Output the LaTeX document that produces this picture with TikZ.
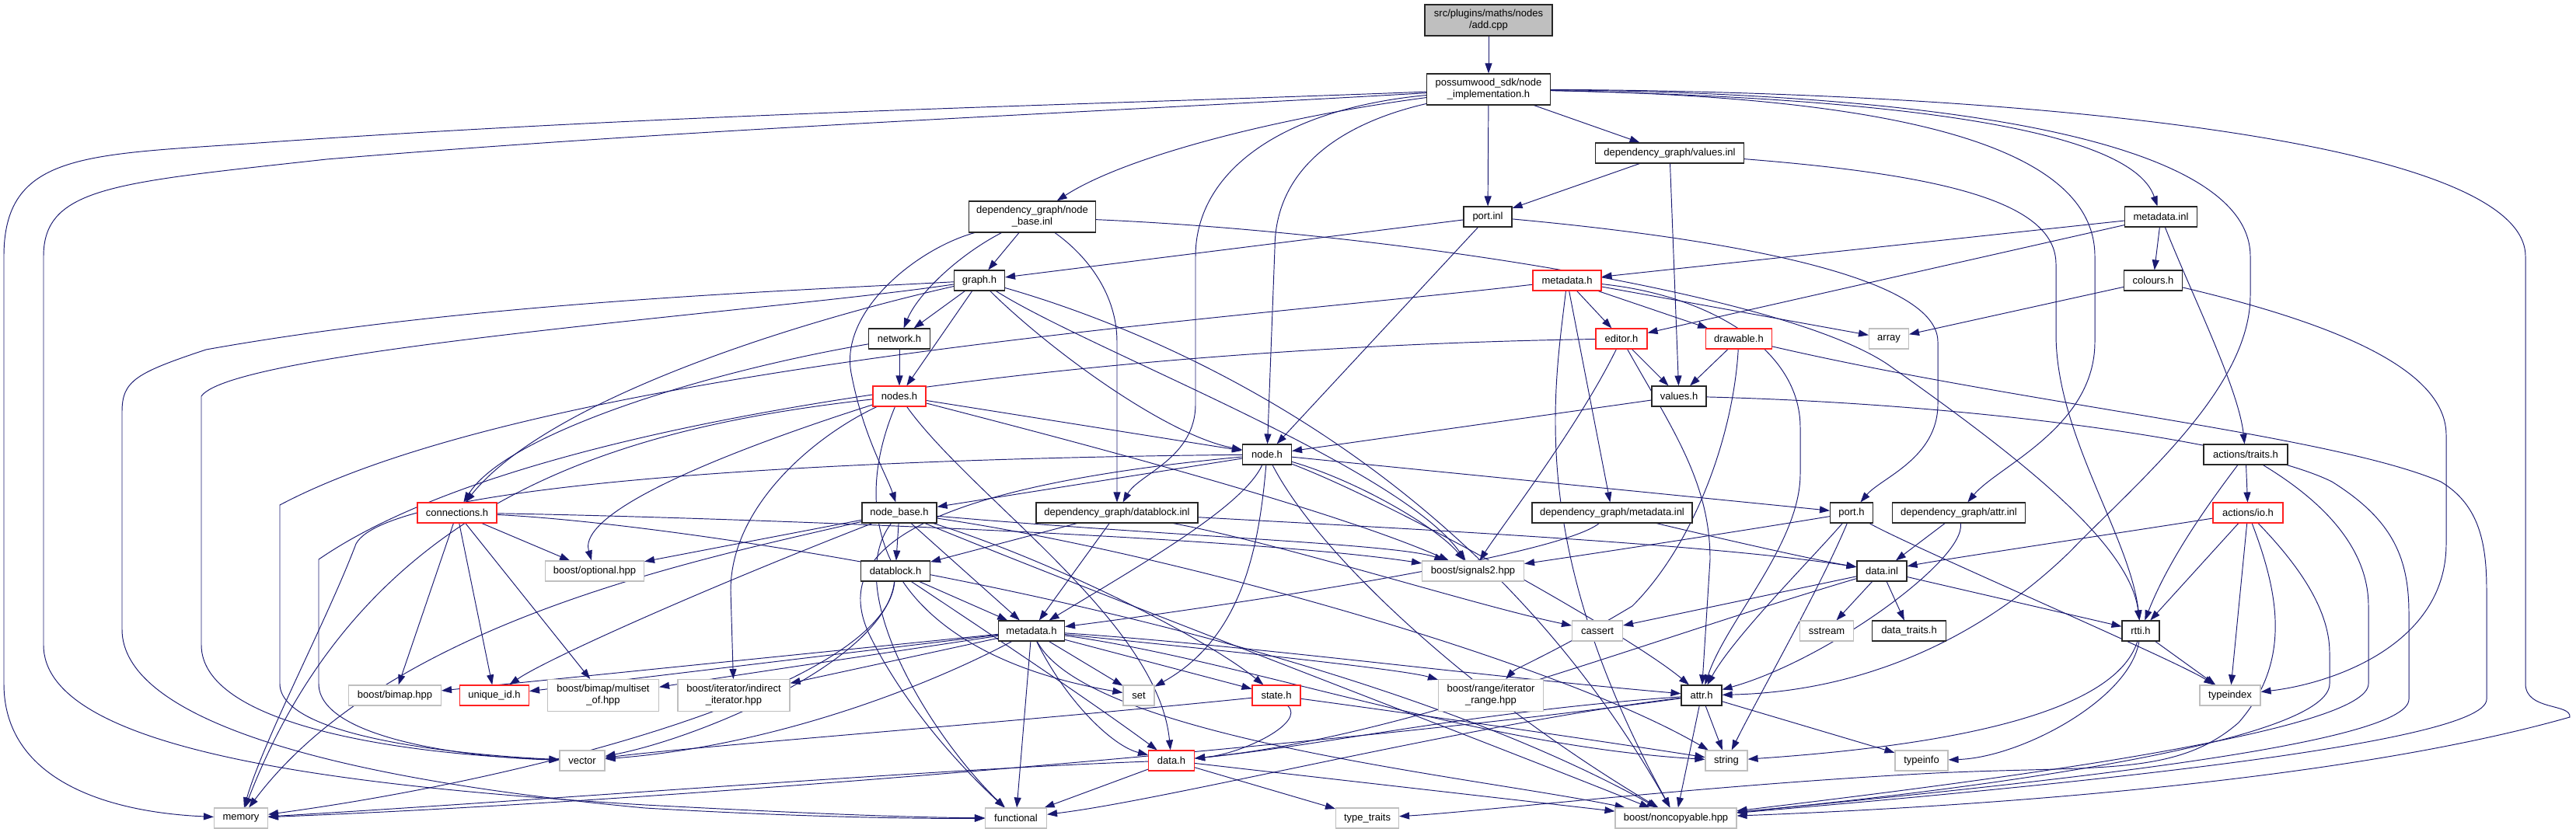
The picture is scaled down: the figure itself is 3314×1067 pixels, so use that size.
\documentclass[tikz,border=0pt]{standalone}
\usepackage{fontspec}
\setmainfont{Liberation Sans}
\usepackage{xcolor}
\usepackage{tikz}
\usetikzlibrary{arrows.meta}
\definecolor{edgeblue}{HTML}{191970}
\definecolor{boxgray}{HTML}{BFBFBF}
\definecolor{cutred}{HTML}{FF2020}
\pgfdeclarelayer{background}
\pgfsetlayers{background,main}

\begin{document}
\begin{tikzpicture}[
  x=1pt, y=-1pt,
  file/.style={
    draw,
    fill=white,
    line width=1.1pt,
    align=center,
    inner sep=0pt,
    minimum height=26pt,
    font=\fontsize{13}{15}\selectfont
  },
  docfile/.style={file, draw=black!85},
  cutfile/.style={file, draw=cutred},
  sysfile/.style={file, draw=boxgray},
  srcfile/.style={file, draw=black!85, fill=boxgray},
  incl/.style={
    -{Triangle[length=13pt,width=9pt]},
    draw=edgeblue,
    line width=0.95pt
  }
]
\useasboundingbox (0,0) rectangle (3314,1067);

% Top of the graph
\node[srcfile, minimum width=164pt, minimum height=40pt] (root) at (1915,26) {src/plugins/maths/nodes\\/add.cpp};
\node[docfile, minimum width=159pt, minimum height=40pt] (impl) at (1915,115) {possumwood\_sdk/node\\\_implementation.h};
\node[docfile, minimum width=191pt] (valinl) at (2148,197) {dependency\_graph/values.inl};
\node[docfile, minimum width=62pt] (portinl) at (1914,279) {port.inl};
\node[docfile, minimum width=163pt, minimum height=40pt] (nbinl) at (1328,279) {dependency\_graph/node\\\_base.inl};
\node[docfile, minimum width=93pt] (mdinl) at (2780,279) {metadata.inl};

% Second band
\node[docfile, minimum width=65pt] (graph) at (1260,361) {graph.h};
\node[cutfile, minimum width=88pt] (mdsdk) at (2016,361) {metadata.h};
\node[docfile, minimum width=75pt] (colours) at (2770,361) {colours.h};
\node[docfile, minimum width=79pt] (network) at (1157,436) {network.h};
\node[cutfile, minimum width=66pt] (editor) at (2086,436) {editor.h};
\node[cutfile, minimum width=85pt] (drawable) at (2237,436) {drawable.h};
\node[sysfile, minimum width=51pt] (array) at (2430,436) {array};
\node[cutfile, minimum width=68pt] (nodes) at (1157,510) {nodes.h};
\node[docfile, minimum width=70pt] (valuesh) at (2160,510) {values.h};
\node[docfile, minimum width=63pt] (nodeh) at (1630,585) {node.h};
\node[docfile, minimum width=108pt] (traits) at (2889,585) {actions/traits.h};

% Middle band
\node[cutfile, minimum width=102pt] (connections) at (588,660) {connections.h};
\node[docfile, minimum width=96pt] (nodebaseh) at (1157,660) {node\_base.h};
\node[docfile, minimum width=208pt] (dbinl) at (1437,660) {dependency\_graph/datablock.inl};
\node[docfile, minimum width=206pt] (dgmdinl) at (2074,660) {dependency\_graph/metadata.inl};
\node[docfile, minimum width=55pt] (porth) at (2382,660) {port.h};
\node[docfile, minimum width=171pt] (attrinl) at (2520,660) {dependency\_graph/attr.inl};
\node[cutfile, minimum width=90pt] (io) at (2892,660) {actions/io.h};
\node[sysfile, minimum width=127pt] (optional) at (765,735) {boost/optional.hpp};
\node[docfile, minimum width=89pt] (datablockh) at (1152,735) {datablock.h};
\node[sysfile, minimum width=131pt] (signals) at (1895,735) {boost/signals2.hpp};
\node[docfile, minimum width=64pt] (datainl) at (2421,735) {data.inl};
\node[docfile, minimum width=85pt] (dgmd) at (1327,812) {metadata.h};
\node[sysfile, minimum width=65pt] (cassert) at (2055,812) {cassert};
\node[sysfile, minimum width=69pt] (sstream) at (2350,812) {sstream};
\node[docfile, minimum width=95pt] (traitsh) at (2456,812) {data\_traits.h};
\node[docfile, minimum width=48pt] (rtti) at (2754,812) {rtti.h};

% Bottom bands
\node[sysfile, minimum width=119pt] (bimap) at (508,895) {boost/bimap.hpp};
\node[cutfile, minimum width=89pt] (uid) at (636,895) {unique\_id.h};
\node[sysfile, minimum width=143pt, minimum height=41pt] (multiset) at (776,895) {boost/bimap/multiset\\\_of.hpp};
\node[sysfile, minimum width=144pt, minimum height=41pt] (indirect) at (944,895) {boost/iterator/indirect\\\_iterator.hpp};
\node[sysfile, minimum width=40pt] (set) at (1465,895) {set};
\node[cutfile, minimum width=62pt] (state) at (1642,895) {state.h};
\node[sysfile, minimum width=135pt, minimum height=41pt] (range) at (1918,895) {boost/range/iterator\\\_range.hpp};
\node[docfile, minimum width=52pt] (attrh) at (2189,895) {attr.h};
\node[sysfile, minimum width=78pt] (typeindex) at (2869,895) {typeindex};
\node[sysfile, minimum width=58pt] (vector) at (749,979) {vector};
\node[cutfile, minimum width=59pt] (datah) at (1507,979) {data.h};
\node[sysfile, minimum width=54pt] (string) at (2221,979) {string};
\node[sysfile, minimum width=68pt] (typeinfo) at (2472,979) {typeinfo};
\node[sysfile, minimum width=69pt] (memory) at (310,1053) {memory};
\node[sysfile, minimum width=79pt] (functional) at (1307,1053) {functional};
\node[sysfile, minimum width=81pt] (typetraits) at (1759,1053) {type\_traits};
\node[sysfile, minimum width=156pt] (noncopy) at (2156,1053) {boost/noncopyable.hpp};

\begin{pgfonlayer}{background}
% add.cpp
\draw[incl] (root) -- (impl);

% node_implementation.h
\draw[incl] (impl) .. controls (1400,135) and (900,145) .. (360,182) .. controls (120,200) and (5,190) .. (5,330) -- (5,880) .. controls (5,1000) and (130,1045) .. (memory);
\draw[incl] (impl) .. controls (1400,145) and (900,165) .. (420,205) .. controls (150,235) and (56,240) .. (56,330) -- (56,830) .. controls (56,960) and (400,1010) .. (830,1036) .. controls (1000,1045) and (1150,1052) .. (functional);
\draw[incl] (impl) .. controls (1650,150) and (1450,200) .. (nbinl);
\draw[incl] (impl) .. controls (1650,140) and (1538,220) .. (1538,330) -- (1538,520) .. controls (1538,590) and (1465,610) .. (dbinl);
\draw[incl] (impl) .. controls (1720,160) and (1640,220) .. (1640,320) -- (nodeh);
\draw[incl] (impl) -- (portinl);
\draw[incl] (impl) -- (valinl);
\draw[incl] (impl) .. controls (2400,125) and (2740,160) .. (mdinl);
\draw[incl] (impl) .. controls (2450,125) and (2695,190) .. (2695,330) -- (2695,440) .. controls (2695,550) and (2570,600) .. (attrinl);
\draw[incl] (impl) .. controls (2500,120) and (2895,180) .. (2895,330) -- (2895,380) .. controls (2895,500) and (2750,620) .. (2663,710) .. controls (2550,820) and (2400,890) .. (attrh);
\draw[incl] (impl) .. controls (2600,118) and (3249,180) .. (3249,330) -- (3249,880) .. controls (3249,915) and (3308,905) .. (3306,923) .. controls (3000,1010) and (2500,1040) .. (noncopy);

% values.inl
\draw[incl] (valinl) -- (portinl);
\draw[incl] (valinl) -- (valuesh);
\draw[incl] (valinl) .. controls (2500,225) and (2645,260) .. (2645,340) -- (2645,430) .. controls (2645,560) and (2740,690) .. (rtti);

% port.inl
\draw[incl] (portinl) -- (graph);
\draw[incl] (portinl) -- (nodeh);
\draw[incl] (portinl) .. controls (2250,310) and (2493,360) .. (2493,440) -- (2493,520) .. controls (2493,590) and (2420,615) .. (porth);

% metadata.inl and colours.h
\draw[incl] (mdinl) -- (mdsdk);
\draw[incl] (mdinl) -- (editor);
\draw[incl] (mdinl) -- (colours);
\draw[incl] (mdinl) .. controls (2820,380) and (2880,500) .. (traits);
\draw[incl] (colours) -- (array);
\draw[incl] (colours) .. controls (3020,420) and (3147,480) .. (3147,560) -- (3147,700) .. controls (3147,830) and (3000,880) .. (typeindex);

% node_base.inl
\draw[incl] (nbinl) -- (graph);
\draw[incl] (nbinl) .. controls (1230,330) and (1180,380) .. (network);
\draw[incl] (nbinl) .. controls (1180,320) and (1080,400) .. (1095,480) .. controls (1110,560) and (1140,610) .. (nodebaseh);
\draw[incl] (nbinl) .. controls (1400,330) and (1437,380) .. (1437,440) -- (dbinl);
\draw[incl] (nbinl) .. controls (1800,300) and (2300,380) .. (2430,470) .. controls (2600,590) and (2740,700) .. (rtti);

% graph.h
\draw[incl] (graph) -- (network);
\draw[incl] (graph) -- (nodes);
\draw[incl] (graph) .. controls (1350,450) and (1500,560) .. (nodeh);
\draw[incl] (graph) .. controls (1000,420) and (700,520) .. (connections);
\draw[incl] (graph) .. controls (1000,375) and (600,390) .. (265,450) .. controls (175,480) and (157,490) .. (157,530) -- (157,810) .. controls (157,920) and (400,1000) .. (830,1040) .. controls (1000,1050) and (1150,1054) .. (functional);
\draw[incl] (graph) .. controls (1000,400) and (300,450) .. (259,510) -- (259,830) .. controls (259,930) and (500,970) .. (vector);
\draw[incl] (graph) .. controls (1400,450) and (1800,600) .. (signals);
\draw[incl] (graph) .. controls (1500,430) and (1900,600) .. (noncopy);

% network.h and nodes.h
\draw[incl] (network) -- (nodes);
\draw[incl] (network) .. controls (900,480) and (650,560) .. (connections);
\draw[incl] (nodes) -- (nodeh);
\draw[incl] (nodes) .. controls (800,550) and (470,640) .. (memory);
\draw[incl] (nodes) .. controls (1000,560) and (740,650) .. (optional);
\draw[incl] (nodes) .. controls (1050,560) and (940,650) .. (940,760) -- (indirect);
\draw[incl] (nodes) .. controls (1070,720) and (1200,850) .. (set);
\draw[incl] (nodes) .. controls (1250,640) and (1490,800) .. (datah);
\draw[incl] (nodes) .. controls (1350,560) and (1700,650) .. (signals);

% metadata.h (sdk)
\draw[incl] (mdsdk) -- (editor);
\draw[incl] (mdsdk) -- (drawable);
\draw[incl] (mdsdk) -- (array);
\draw[incl] (mdsdk) -- (dgmdinl);
\draw[incl] (mdsdk) .. controls (1600,410) and (700,470) .. (360,650) -- (360,880) .. controls (360,950) and (600,972) .. (vector);
\draw[incl] (mdsdk) .. controls (2000,500) and (1962,700) .. (noncopy);
\draw[incl] (mdsdk) .. controls (2200,380) and (2316,450) .. (2316,550) -- (2316,610) .. controls (2316,700) and (2220,800) .. (attrh);

% editor.h and drawable.h
\draw[incl] (editor) -- (valuesh);
\draw[incl] (editor) .. controls (2030,550) and (1930,680) .. (signals);
\draw[incl] (editor) .. controls (2150,550) and (2200,620) .. (2200,720) -- (attrh);
\draw[incl] (editor) .. controls (1500,445) and (700,520) .. (410,720) -- (410,880) .. controls (410,950) and (600,975) .. (vector);
\draw[incl] (drawable) -- (valuesh);
\draw[incl] (drawable) .. controls (2230,560) and (2180,700) .. (2100,780) .. controls (2000,840) and (1950,860) .. (range);
\draw[incl] (drawable) .. controls (2600,520) and (3000,560) .. (3140,620) .. controls (3190,650) and (3199,700) .. (3199,760) -- (3199,900) .. controls (3199,960) and (2600,1015) .. (noncopy);

% values.h
\draw[incl] (valuesh) -- (nodeh);
\draw[incl] (valuesh) .. controls (2550,520) and (2900,570) .. (3000,620) .. controls (3080,670) and (3099,720) .. (3099,790) -- (3099,900) .. controls (3099,960) and (2600,1010) .. (noncopy);

% node.h
\draw[incl] (nodeh) -- (nodebaseh);
\draw[incl] (nodeh) .. controls (1100,590) and (500,620) .. (458,700) .. controls (420,800) and (340,950) .. (memory);
\draw[incl] (nodeh) .. controls (1150,630) and (1070,720) .. (1120,820) .. controls (1170,920) and (1250,1000) .. (functional);
\draw[incl] (nodeh) .. controls (1600,650) and (1480,720) .. (dgmd);
\draw[incl] (nodeh) .. controls (1750,620) and (1850,680) .. (signals);
\draw[incl] (nodeh) -- (porth);
\draw[incl] (nodeh) .. controls (1800,650) and (2100,820) .. (attrh);
\draw[incl] (nodeh) .. controls (1700,720) and (1900,900) .. (noncopy);
\draw[incl] (nodeh) .. controls (1620,700) and (1600,820) .. (set);

% actions
\draw[incl] (traits) -- (io);
\draw[incl] (traits) .. controls (2840,650) and (2790,720) .. (rtti);
\draw[incl] (traits) .. controls (2980,640) and (3047,700) .. (3047,780) -- (3047,880) .. controls (3047,940) and (2600,1000) .. (noncopy);
\draw[incl] (io) .. controls (2700,690) and (2500,720) .. (datainl);
\draw[incl] (io) -- (rtti);
\draw[incl] (io) -- (typeindex);
\draw[incl] (io) .. controls (2930,760) and (2950,850) .. (2880,930) .. controls (2800,1000) and (2700,985) .. (2490,995) .. controls (2200,1010) and (1900,1045) .. (typetraits);
\draw[incl] (io) .. controls (2950,720) and (2997,780) .. (2997,840) -- (2997,880) .. controls (2997,950) and (2600,1010) .. (noncopy);

% connections.h
\draw[incl] (connections) -- (optional);
\draw[incl] (connections) -- (bimap);
\draw[incl] (connections) -- (uid);
\draw[incl] (connections) -- (multiset);
\draw[incl] (connections) .. controls (900,665) and (1600,690) .. (signals);
\draw[incl] (connections) .. controls (900,675) and (1700,800) .. (noncopy);

% node_base.h
\draw[incl] (nodebaseh) -- (optional);
\draw[incl] (nodebaseh) .. controls (900,720) and (500,800) .. (memory);
\draw[incl] (nodebaseh) .. controls (900,760) and (700,850) .. (uid);
\draw[incl] (nodebaseh) -- (datablockh);
\draw[incl] (nodebaseh) -- (dgmd);
\draw[incl] (nodebaseh) .. controls (1080,760) and (1200,950) .. (functional);
\draw[incl] (nodebaseh) .. controls (1350,720) and (1550,820) .. (state);
\draw[incl] (nodebaseh) .. controls (1500,690) and (1800,700) .. (signals);
\draw[incl] (nodebaseh) .. controls (1500,710) and (2000,850) .. (string);
\draw[incl] (nodebaseh) .. controls (1400,760) and (1900,950) .. (noncopy);

% datablock.inl, metadata.inl, port.h, attr.inl
\draw[incl] (dbinl) -- (datablockh);
\draw[incl] (dbinl) -- (dgmd);
\draw[incl] (dbinl) .. controls (1800,680) and (2200,700) .. (datainl);
\draw[incl] (dbinl) .. controls (1650,700) and (1900,780) .. (cassert);
\draw[incl] (dgmdinl) .. controls (2000,720) and (1500,790) .. (dgmd);
\draw[incl] (dgmdinl) .. controls (2200,690) and (2330,720) .. (datainl);
\draw[incl] (porth) .. controls (2200,690) and (2000,720) .. (signals);
\draw[incl] (porth) .. controls (2330,720) and (2230,820) .. (attrh);
\draw[incl] (porth) .. controls (2340,760) and (2260,900) .. (string);
\draw[incl] (porth) .. controls (2450,700) and (2800,850) .. (typeindex);
\draw[incl] (attrinl) -- (datainl);
\draw[incl] (attrinl) .. controls (2530,720) and (2350,850) .. (attrh);

% datablock.h and data.inl
\draw[incl] (datablockh) -- (dgmd);
\draw[incl] (datablockh) .. controls (1250,800) and (1400,900) .. (datah);
\draw[incl] (datablockh) .. controls (1140,850) and (900,950) .. (vector);
\draw[incl] (datablockh) .. controls (1140,880) and (700,1000) .. (memory);
\draw[incl] (datainl) -- (cassert);
\draw[incl] (datainl) -- (sstream);
\draw[incl] (datainl) -- (traitsh);
\draw[incl] (datainl) -- (rtti);
\draw[incl] (datainl) .. controls (2100,830) and (1800,950) .. (datah);

% rtti.h
\draw[incl] (rtti) -- (typeindex);
\draw[incl] (rtti) .. controls (2740,900) and (2600,975) .. (typeinfo);
\draw[incl] (rtti) .. controls (2720,920) and (2500,960) .. (string);

% metadata.h (dependency_graph)
\draw[incl] (dgmd) -- (bimap);
\draw[incl] (dgmd) -- (uid);
\draw[incl] (dgmd) -- (multiset);
\draw[incl] (dgmd) -- (indirect);
\draw[incl] (dgmd) -- (set);
\draw[incl] (dgmd) -- (state);
\draw[incl] (dgmd) .. controls (1370,900) and (1430,960) .. (datah);
\draw[incl] (dgmd) -- (functional);
\draw[incl] (dgmd) .. controls (1600,830) and (1900,870) .. (attrh);
\draw[incl] (dgmd) .. controls (1600,850) and (1900,960) .. (string);
\draw[incl] (dgmd) .. controls (1200,880) and (1000,960) .. (vector);
\draw[incl] (dgmd) .. controls (1500,830) and (1800,860) .. (range);
\draw[incl] (dgmd) .. controls (1400,950) and (1900,1000) .. (noncopy);

% state.h, attr.h, data.h
\draw[incl] (state) .. controls (1300,930) and (900,960) .. (vector);
\draw[incl] (state) .. controls (1900,930) and (2100,960) .. (string);
\draw[incl] (state) .. controls (1680,930) and (1600,970) .. (datah);
\draw[incl] (attrh) -- (string);
\draw[incl] (attrh) -- (typeinfo);
\draw[incl] (attrh) -- (noncopy);
\draw[incl] (attrh) .. controls (1900,915) and (1700,960) .. (datah);
\draw[incl] (attrh) .. controls (1900,930) and (1500,1030) .. (functional);
\draw[incl] (attrh) .. controls (1800,950) and (900,1030) .. (memory);
\draw[incl] (datah) .. controls (1200,990) and (700,1030) .. (memory);
\draw[incl] (datah) -- (functional);
\draw[incl] (datah) -- (typetraits);
\draw[incl] (datah) -- (noncopy);
\end{pgfonlayer}

\end{tikzpicture}
\end{document}
